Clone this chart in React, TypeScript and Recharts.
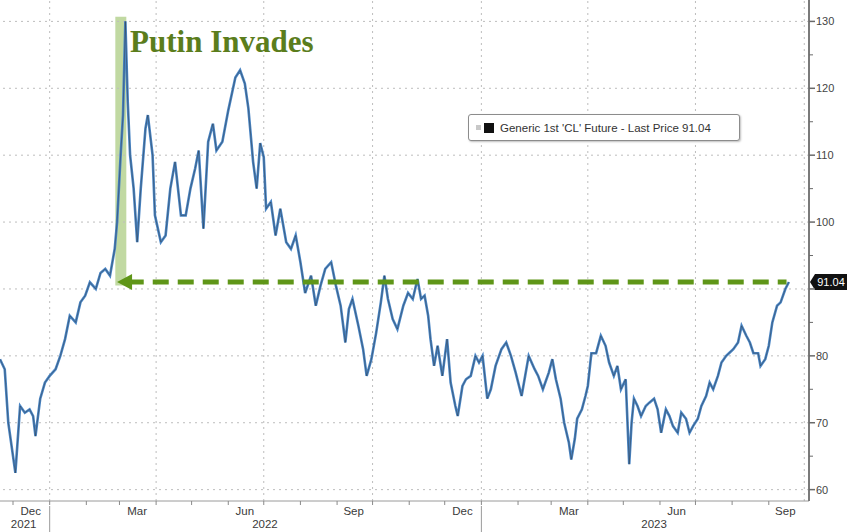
import {
  Legend,
  Line,
  LineChart,
  ReferenceArea,
  ReferenceDot,
  ReferenceLine,
  XAxis,
  YAxis,
} from "recharts";

// WTI front-month close (roughly every 3-5 days)
const dates = [
  "2021-11-20", "2021-11-24", "2021-11-27",
  "2021-12-01", "2021-12-03", "2021-12-07", "2021-12-11", "2021-12-15", "2021-12-18", "2021-12-20", "2021-12-24", "2021-12-28",
  "2022-01-01", "2022-01-06", "2022-01-10", "2022-01-14", "2022-01-18", "2022-01-23", "2022-01-27", "2022-01-31",
  "2022-02-04", "2022-02-09", "2022-02-13", "2022-02-17", "2022-02-21", "2022-02-25", "2022-02-27",
  "2022-03-02", "2022-03-04", "2022-03-06", "2022-03-08", "2022-03-10", "2022-03-13", "2022-03-16", "2022-03-19", "2022-03-23", "2022-03-25", "2022-03-29", "2022-03-31",
  "2022-04-05", "2022-04-09", "2022-04-13", "2022-04-17", "2022-04-22", "2022-04-26", "2022-04-30",
  "2022-05-04", "2022-05-07", "2022-05-11", "2022-05-15", "2022-05-19", "2022-05-22", "2022-05-27",
  "2022-06-01", "2022-06-07", "2022-06-11", "2022-06-15", "2022-06-18", "2022-06-22", "2022-06-25", "2022-06-28",
  "2022-07-01", "2022-07-03", "2022-07-07", "2022-07-11", "2022-07-15", "2022-07-20", "2022-07-24", "2022-07-28",
  "2022-08-01", "2022-08-05", "2022-08-10", "2022-08-14", "2022-08-18", "2022-08-22", "2022-08-27", "2022-08-31",
  "2022-09-04", "2022-09-08", "2022-09-11", "2022-09-14", "2022-09-19", "2022-09-23", "2022-09-26", "2022-09-30",
  "2022-10-04", "2022-10-08", "2022-10-11", "2022-10-14", "2022-10-18", "2022-10-22", "2022-10-27", "2022-10-31",
  "2022-11-04", "2022-11-08", "2022-11-11", "2022-11-14", "2022-11-17", "2022-11-19", "2022-11-22", "2022-11-25", "2022-11-29",
  "2022-12-03", "2022-12-06", "2022-12-10", "2022-12-12", "2022-12-16", "2022-12-19", "2022-12-23", "2022-12-27", "2022-12-30",
  "2023-01-02", "2023-01-06", "2023-01-09", "2023-01-13", "2023-01-18", "2023-01-22", "2023-01-26", "2023-01-30",
  "2023-02-04", "2023-02-07", "2023-02-10", "2023-02-15", "2023-02-18", "2023-02-22", "2023-02-27",
  "2023-03-02", "2023-03-05", "2023-03-09", "2023-03-12", "2023-03-16", "2023-03-18", "2023-03-21", "2023-03-23", "2023-03-27", "2023-03-30",
  "2023-04-01", "2023-04-04", "2023-04-08", "2023-04-12", "2023-04-16", "2023-04-19", "2023-04-23", "2023-04-26", "2023-04-29",
  "2023-05-03", "2023-05-06", "2023-05-08", "2023-05-10", "2023-05-13", "2023-05-16", "2023-05-20", "2023-05-23", "2023-05-27", "2023-05-30",
  "2023-06-02", "2023-06-06", "2023-06-09", "2023-06-12", "2023-06-16", "2023-06-19", "2023-06-23", "2023-06-26", "2023-06-29",
  "2023-07-03", "2023-07-06", "2023-07-10", "2023-07-13", "2023-07-16", "2023-07-20", "2023-07-23", "2023-07-27", "2023-07-30",
  "2023-08-02", "2023-08-06", "2023-08-09", "2023-08-13", "2023-08-16", "2023-08-19", "2023-08-23", "2023-08-25", "2023-08-29",
  "2023-09-01", "2023-09-04", "2023-09-08", "2023-09-11", "2023-09-15", "2023-09-18",
];

const prices = [
  79.5, 78, 70,
  65, 62.5, 72.5, 71.5, 72, 71, 68, 73.6, 76,
  77, 78, 80, 82.5, 86, 85, 88, 89,
  91, 90, 92.4, 93, 92, 96, 100,
  110, 116, 130, 118, 110, 105, 97, 105, 114, 116, 110, 101,
  97, 98, 105, 109, 101, 101, 105,
  108, 110.7, 99, 112, 114.7, 110.7, 112,
  116.7, 121.6, 122.7, 120.7, 117, 109, 105, 111.8,
  109.7, 102, 103, 98, 102, 97, 96, 98,
  94, 89.4, 92, 87.5, 90.5, 93, 94, 90.5,
  87.5, 82, 87, 88.5, 84.5, 81, 77, 79.5,
  83.4, 88, 92, 88.5, 85.5, 84, 87.5, 89.4,
  88.5, 91.5, 88.5, 89, 86, 82.5, 78.5, 81.5, 77,
  82.5, 76, 72.5, 71, 75.5, 76.5, 77, 80, 79,
  80, 73.6, 75, 78.5, 81, 82, 80, 77.5,
  74, 77, 80, 78, 77, 75, 77.5,
  79.5, 76.5, 73.6, 70, 67, 64.5, 67.6, 70.6, 72, 74,
  75.5, 80.4, 80.4, 83, 81.5, 79, 77, 78.5, 75,
  76.5, 63.8, 70, 73.6, 72.5, 71, 72.5, 73, 73.6, 72,
  68.5, 72, 71, 69.5, 68.5, 71.5, 70.6, 68.5, 69.5,
  70.6, 72.5, 74, 76, 75, 77, 79, 80, 80.5,
  81, 82, 84.5, 83, 82, 80.4, 80.4, 78.5, 79.5,
  81.5, 85, 87.5, 88, 90, 91.04,
];

const LAST_PRICE = 91.04;

// axis furniture
const monthStarts = [
  "2021-12-01", "2022-01-01", "2022-02-01", "2022-03-01", "2022-04-01", "2022-05-01", "2022-06-01",
  "2022-07-01", "2022-08-01", "2022-09-01", "2022-10-01", "2022-11-01", "2022-12-01",
  "2023-01-01", "2023-02-01", "2023-03-01", "2023-04-01", "2023-05-01", "2023-06-01",
  "2023-07-01", "2023-08-01", "2023-09-01",
];
const monthLabels: Array<[string, string]> = [
  ["2021-12-16", "Dec"], ["2022-03-16", "Mar"], ["2022-06-15", "Jun"], ["2022-09-15", "Sep"],
  ["2022-12-16", "Dec"], ["2023-03-16", "Mar"], ["2023-06-15", "Jun"], ["2023-09-15", "Sep"],
];
const yearLabels: Array<[string, string]> = [
  ["2021-12-10", "2021"], ["2022-07-02", "2022"], ["2023-05-27", "2023"],
];
const quarterGrid = [
  "2022-01-01", "2022-04-01", "2022-07-01", "2022-10-01",
  "2023-01-01", "2023-04-01", "2023-07-01", "2023-10-01",
];
const yGrid = [60, 70, 80, 90, 100, 110, 120, 130];
const yTicks = [60, 65, 70, 75, 80, 85, 90, 95, 100, 105, 110, 115, 120, 125, 130];

const START = Date.UTC(2021, 10, 20);
const dayOf = (iso: string) => {
  const [y, m, d] = iso.split("-").map(Number);
  return Math.round((Date.UTC(y, m - 1, d) - START) / 86400000);
};

const data = dates.map((d, i) => ({ t: dayOf(d), v: prices[i] }));

type TickInfo = { kind: "month" | "label" | "year"; text?: string; yearStart?: boolean };
const tickInfo = new Map<number, TickInfo>();
monthStarts.forEach((d) => tickInfo.set(dayOf(d), { kind: "month", yearStart: d.endsWith("-01-01") }));
monthLabels.forEach(([d, s]) => tickInfo.set(dayOf(d), { kind: "label", text: s }));
yearLabels.forEach(([d, s]) => tickInfo.set(dayOf(d), { kind: "year", text: s }));
const xTicks = [...tickInfo.keys()].sort((a, b) => a - b);

const GREEN = "#5f9618";
const AXIS_FONT = "'Liberation Sans', Arial, sans-serif";

function XTick({ x, y, payload }: any) {
  const info = tickInfo.get(payload.value);
  if (!info) return null;
  if (info.kind === "month") {
    return (
      <g>
        <line x1={x} x2={x} y1={y} y2={y + 4} stroke="#8a8a8a" />
        {info.yearStart && <line x1={x} x2={x} y1={y + 5} y2={y + 31} stroke="#9a9a9a" />}
      </g>
    );
  }
  return (
    <text
      x={x}
      y={info.kind === "label" ? y + 14 : y + 27}
      textAnchor="middle"
      fontSize={11.5}
      fontFamily={AXIS_FONT}
      fill="#3a3a3a"
    >
      {info.text}
    </text>
  );
}

// the 90 label sits under the last-price badge, so only its tick is drawn
function YTick({ x, y, payload }: any) {
  const major = payload.value % 10 === 0;
  const hidden = payload.value === 90;
  return (
    <g>
      <line x1={x} x2={x + (major ? 6 : 4)} y1={y} y2={y} stroke="#6a6a6a" strokeWidth={major ? 1.5 : 1} />
      {major && !hidden && (
        <text x={x + 7} y={y + 4} fontSize={11} fontFamily={AXIS_FONT} fill="#444">
          {payload.value}
        </text>
      )}
    </g>
  );
}

function LegendBox() {
  return (
    <div
      style={{
        width: 272,
        height: 27,
        boxSizing: "border-box",
        background: "#fff",
        border: "1px solid #8c8c8c",
        borderRadius: 3,
        boxShadow: "1px 1px 2px rgba(0,0,0,0.25)",
        display: "flex",
        alignItems: "center",
        gap: 3,
        paddingLeft: 7,
        fontFamily: AXIS_FONT,
        fontSize: 11.5,
        color: "#333",
        whiteSpace: "nowrap",
      }}
    >
      <span style={{ width: 5, height: 5, background: "#c8c8c8", display: "inline-block" }} />
      <span style={{ width: 10, height: 10, background: "#111", display: "inline-block", marginRight: 3 }} />
      Generic 1st 'CL' Future - Last Price {LAST_PRICE.toFixed(2)}
    </div>
  );
}

const arrowHead = ({ cx, cy }: any) => (
  <polygon points={`${cx},${cy} ${cx + 15},${cy - 8} ${cx + 15},${cy + 8}`} fill={GREEN} />
);

const priceBadge = ({ cx, cy }: any) => (
  <g>
    <polygon
      points={`${cx + 1},${cy} ${cx + 6},${cy - 8} ${cx + 38},${cy - 8} ${cx + 38},${cy + 8} ${cx + 6},${cy + 8}`}
      fill="#111"
    />
    <text x={cx + 22} y={cy + 4} textAnchor="middle" fontSize={11} fontFamily={AXIS_FONT} fill="#fff">
      {LAST_PRICE.toFixed(2)}
    </text>
  </g>
);

const invadesText = ({ cx, cy }: any) => (
  <text
    x={cx}
    y={cy}
    fontSize={31}
    fontWeight="bold"
    fontFamily="'Liberation Serif', 'DejaVu Serif', serif"
    fill="#5b7d1c"
  >
    Putin Invades
  </text>
);

export default function App() {
  return (
    <div style={{ position: "absolute", left: 0, top: 0, background: "#fff" }}>
      <LineChart width={848} height={532} data={data} margin={{ top: 0, right: 0, bottom: 0, left: 0 }}>
        {yGrid.map((v) => (
          <ReferenceLine key={`h${v}`} y={v} stroke="#bdbdbd" strokeDasharray="2 4" />
        ))}
        {quarterGrid.map((d) => (
          <ReferenceLine key={`v${d}`} x={dayOf(d)} stroke="#bdbdbd" strokeDasharray="2 4" ifOverflow="hidden" />
        ))}
        <XAxis
          dataKey="t"
          type="number"
          domain={[0, 684]}
          ticks={xTicks}
          interval={0}
          tick={<XTick />}
          tickLine={false}
          tickSize={0}
          tickMargin={0}
          axisLine={{ stroke: "#9a9a9a" }}
          height={31}
          allowDataOverflow
        />
        <YAxis
          orientation="right"
          domain={[58.3, 133.2]}
          ticks={yTicks}
          interval={0}
          tick={<YTick />}
          tickLine={false}
          tickSize={0}
          tickMargin={0}
          axisLine={{ stroke: "#7a7a7a", strokeWidth: 2 }}
          width={39}
          allowDataOverflow
        />
        <Line
          dataKey="v"
          name="Generic 1st 'CL' Future - Last Price"
          stroke="#4a86c6"
          strokeWidth={2.6}
          dot={false}
          activeDot={false}
          isAnimationActive={false}
        />
        <Line
          dataKey="v"
          stroke="#2a2a2a"
          strokeWidth={1}
          strokeOpacity={0.4}
          dot={false}
          activeDot={false}
          legendType="none"
          isAnimationActive={false}
        />
        <ReferenceArea
          x1={97.5}
          x2={106.8}
          y1={90.5}
          y2={130.7}
          fill="#a7c97a"
          fillOpacity={0.7}
          stroke="none"
          ifOverflow="visible"
        />
        <ReferenceLine
          segment={[
            { x: 108, y: LAST_PRICE },
            { x: 665, y: LAST_PRICE },
          ]}
          stroke={GREEN}
          strokeWidth={5}
          strokeDasharray="16 9"
        />
        <ReferenceDot x={99} y={LAST_PRICE} shape={arrowHead} ifOverflow="visible" />
        <ReferenceDot x={110} y={125.4} shape={invadesText} ifOverflow="visible" />
        <ReferenceDot x={684} y={LAST_PRICE} shape={priceBadge} ifOverflow="visible" />
        <Legend
          layout="vertical"
          align="center"
          verticalAlign="middle"
          content={<LegendBox />}
          wrapperStyle={{ left: 468, top: 114, width: 272, height: 28 }}
        />
      </LineChart>
    </div>
  );
}
